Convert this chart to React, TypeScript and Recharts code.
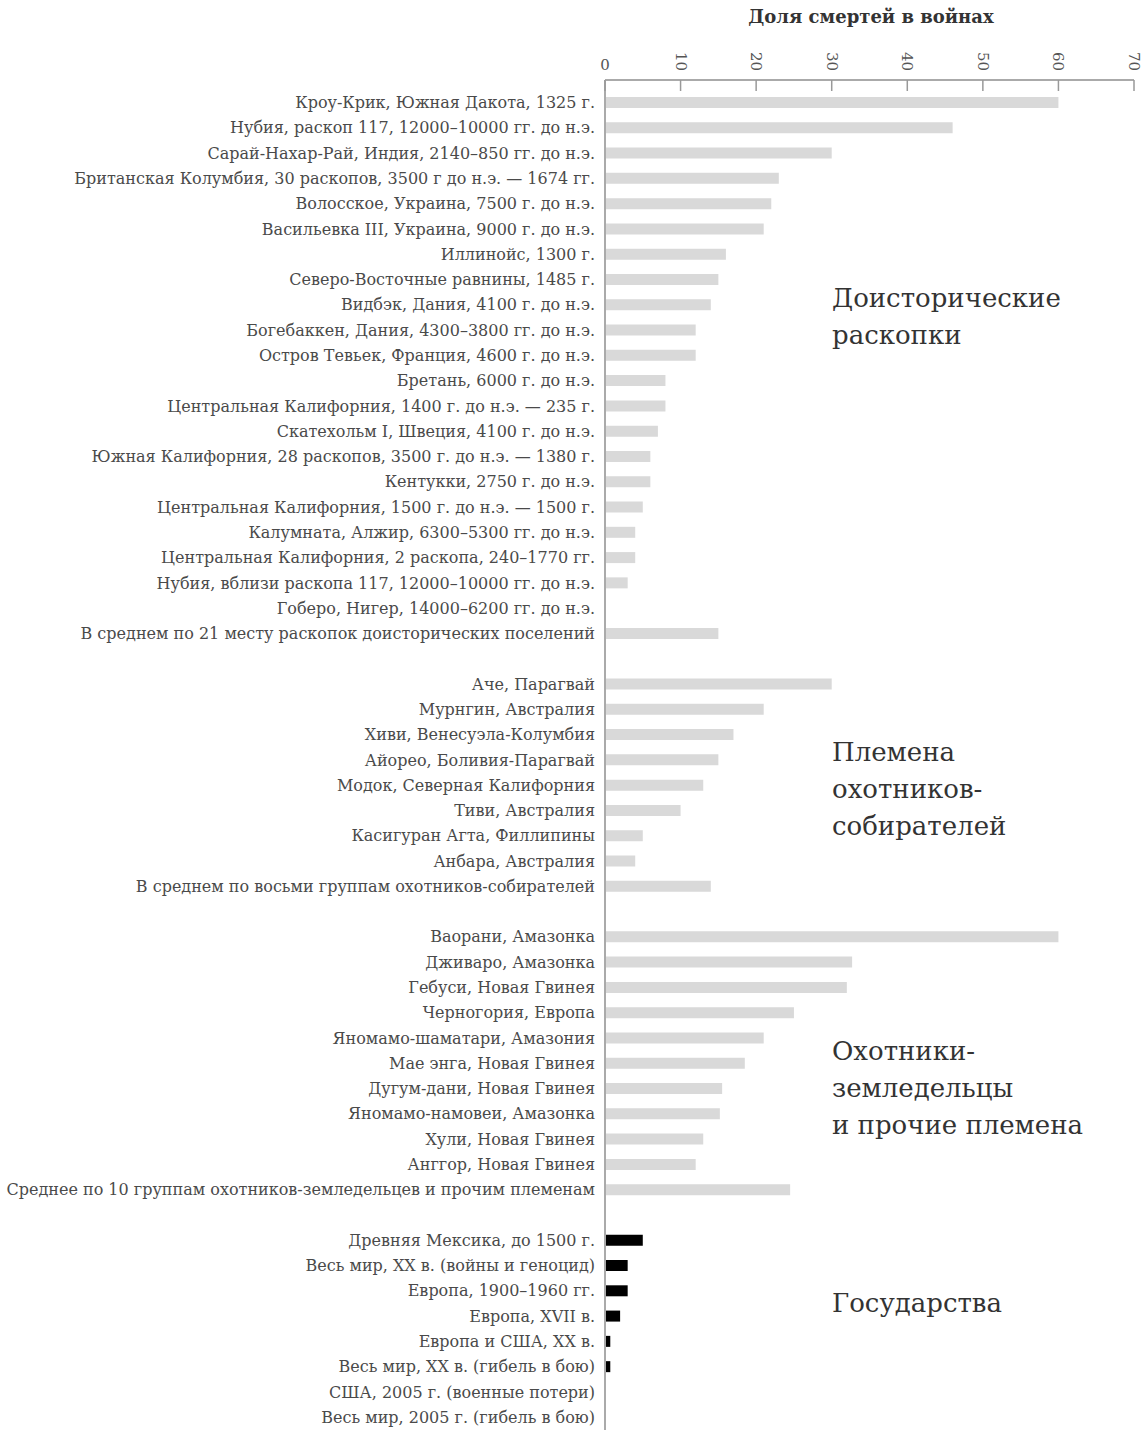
import React from 'react';
import { BarChart, Bar, XAxis, YAxis, Cell } from 'recharts';

// Rows from top to bottom; blank strings are spacer rows between groups
const labels = [
  'Кроу-Крик, Южная Дакота, 1325 г.',
  'Нубия, раскоп 117, 12000–10000 гг. до н.э.',
  'Сарай-Нахар-Рай, Индия, 2140–850 гг. до н.э.',
  'Британская Колумбия, 30 раскопов, 3500 г до н.э. — 1674 гг.',
  'Волосское, Украина, 7500 г. до н.э.',
  'Васильевка III, Украина, 9000 г. до н.э.',
  'Иллинойс, 1300 г.',
  'Северо-Восточные равнины, 1485 г.',
  'Видбэк, Дания, 4100 г. до н.э.',
  'Богебаккен, Дания, 4300–3800 гг. до н.э.',
  'Остров Тевьек, Франция, 4600 г. до н.э.',
  'Бретань, 6000 г. до н.э.',
  'Центральная Калифорния, 1400 г. до н.э. — 235 г.',
  'Скатехольм I, Швеция, 4100 г. до н.э.',
  'Южная Калифорния, 28 раскопов, 3500 г. до н.э. — 1380 г.',
  'Кентукки, 2750 г. до н.э.',
  'Центральная Калифорния, 1500 г. до н.э. — 1500 г.',
  'Калумната, Алжир, 6300–5300 гг. до н.э.',
  'Центральная Калифорния, 2 раскопа, 240–1770 гг.',
  'Нубия, вблизи раскопа 117, 12000–10000 гг. до н.э.',
  'Гоберо, Нигер, 14000–6200 гг. до н.э.',
  'В среднем по 21 месту раскопок доисторических поселений',
  ' ',
  'Аче, Парагвай',
  'Мурнгин, Австралия',
  'Хиви, Венесуэла-Колумбия',
  'Айорео, Боливия-Парагвай',
  'Модок, Северная Калифорния',
  'Тиви, Австралия',
  'Касигуран Агта, Филлипины',
  'Анбара, Австралия',
  'В среднем по восьми группам охотников-собирателей',
  '  ',
  'Ваорани, Амазонка',
  'Дживаро, Амазонка',
  'Гебуси, Новая Гвинея',
  'Черногория, Европа',
  'Яномамо-шаматари, Амазония',
  'Мае энга, Новая Гвинея',
  'Дугум-дани, Новая Гвинея',
  'Яномамо-намовеи, Амазонка',
  'Хули, Новая Гвинея',
  'Анггор, Новая Гвинея',
  'Среднее по 10 группам охотников-земледельцев и прочим племенам',
  '   ',
  'Древняя Мексика, до 1500 г.',
  'Весь мир, XX в. (войны и геноцид)',
  'Европа, 1900–1960 гг.',
  'Европа, XVII в.',
  'Европа и США, XX в.',
  'Весь мир, XX в. (гибель в бою)',
  'США, 2005 г. (военные потери)',
  'Весь мир, 2005 г. (гибель в бою)',
];

const prehistoric = [60, 46, 30, 23, 22, 21, 16, 15, 14, 12, 12, 8, 8, 7, 6, 6, 5, 4, 4, 3, 0, 15];
const hunterGatherers = [30, 21, 17, 15, 13, 10, 5, 4, 14];
const horticulturalists = [60, 32.7, 32, 25, 21, 18.5, 15.5, 15.2, 13, 12, 24.5];
const states = [5, 3, 3, 2, 0.7, 0.7, 0.008, 0.0003];

const xTicks = [0, 10, 20, 30, 40, 50, 60, 70];

const groupLabels = [
  { lines: ['Доисторические', 'раскопки'], top: 280 },
  { lines: ['Племена', 'охотников-', 'собирателей'], top: 734 },
  { lines: ['Охотники-', 'земледельцы', 'и прочие племена'], top: 1033 },
  { lines: ['Государства'], top: 1285 },
];

const values = [...prehistoric, null, ...hunterGatherers, null, ...horticulturalists, null, ...states];
const data = labels.map((label, i) => ({
  label,
  value: values[i],
  isState: i >= labels.length - states.length,
}));

const SERIF = '"DejaVu Serif", "Liberation Serif", serif';

const XTick = ({ x, y, payload }: any) => {
  const v = payload.value;
  return (
    <g>
      <line x1={x} x2={x} y1={y} y2={y + 11} stroke="#999" strokeWidth={1.5} />
      {v === 0 ? (
        <text x={x} y={y - 10} textAnchor="middle" fontFamily={SERIF} fontSize={15} fill="#555">0</text>
      ) : (
        <text
          x={x}
          y={y - 9}
          textAnchor="end"
          dominantBaseline="central"
          transform={`rotate(90 ${x} ${y - 9})`}
          fontFamily={SERIF}
          fontSize={15}
          fill="#555"
        >
          {v}
        </text>
      )}
    </g>
  );
};

const YTick = ({ x, y, payload }: any) => (
  <text x={x} y={y} textAnchor="end" dominantBaseline="central" fontFamily={SERIF} fontSize={16} fill="#4a4a4a">
    {payload.value}
  </text>
);

export default function App() {
  return (
    <div style={{ position: 'absolute', left: 0, top: 0, width: 1145, height: 1430, background: '#fff' }}>
      <div
        style={{
          position: 'absolute',
          left: 605,
          width: 532,
          top: 6,
          textAlign: 'center',
          fontFamily: SERIF,
          fontWeight: 'bold',
          fontSize: 18,
          color: '#333',
        }}
      >
        Доля смертей в войнах
      </div>
      <BarChart
        width={1145}
        height={1430}
        data={data}
        layout="vertical"
        margin={{ top: 0, right: 11, bottom: 0, left: 0 }}
      >
        <XAxis
          type="number"
          orientation="top"
          domain={[0, 70]}
          ticks={xTicks}
          height={80}
          tickSize={0}
          tickMargin={0}
          tickLine={false}
          axisLine={{ stroke: '#aaa', strokeWidth: 2 }}
          tick={<XTick />}
        />
        <YAxis
          type="category"
          dataKey="label"
          width={605}
          interval={0}
          tickLine={false}
          tickSize={6}
          tickMargin={4}
          padding={{ top: 10, bottom: 0 }}
          axisLine={{ stroke: '#aaa', strokeWidth: 2 }}
          tick={<YTick />}
        />
        <Bar dataKey="value" barSize={11} isAnimationActive={false}>
          {data.map((d, i) => (
            <Cell key={i} fill={d.isState ? '#000' : '#d9d9d9'} />
          ))}
        </Bar>
      </BarChart>
      {groupLabels.map((g, i) => (
        <div
          key={i}
          style={{
            position: 'absolute',
            left: 832,
            top: g.top,
            fontFamily: SERIF,
            fontSize: 26,
            lineHeight: '37px',
            color: '#333',
            whiteSpace: 'nowrap',
          }}
        >
          {g.lines.map((l, j) => (
            <div key={j}>{l}</div>
          ))}
        </div>
      ))}
    </div>
  );
}
